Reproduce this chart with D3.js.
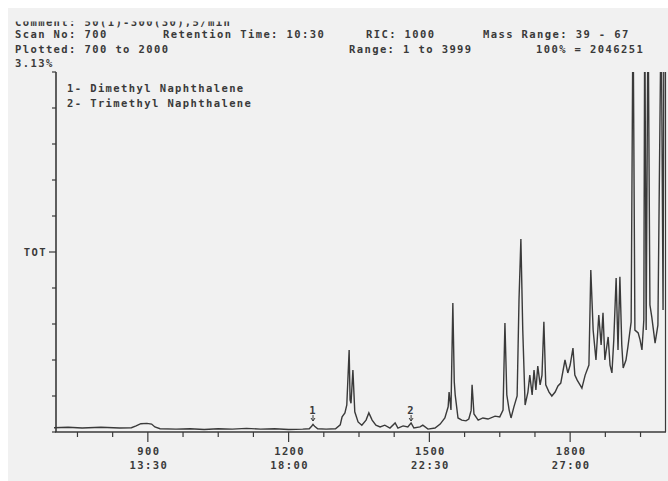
<!DOCTYPE html>
<html>
<head>
<meta charset="utf-8">
<script src="https://cdn.jsdelivr.net/npm/d3@7"></script>
<style>
  body { margin: 0; background: #fff; }
  text { font-family: "DejaVu Sans Mono", monospace; font-size: 10.5px; font-weight: bold; fill: #3a3a3a; letter-spacing: 1.4px; }
</style>
</head>
<body>
<svg id="chart" width="668" height="481"></svg>
<script>
// Header text of the printout
const headerComment = "Comment: 50(1)-300(30),5/min";
const headerRow1 = ["Scan No: 700", "Retention Time: 10:30", "RIC: 1000", "Mass Range: 39 - 67"];
const headerRow2 = ["Plotted: 700 to 2000", "Range: 1 to 3999", "100% = 2046251"];
const fullScaleLabel = "3.13%";
const legendLines = ["1- Dimethyl Naphthalene", "2- Trimethyl Naphthalene"];

// Scan axis
const scanRange = [700, 2000];
const majorTicks = [900, 1200, 1500, 1800];
const timeLabels = ["13:30", "18:00", "22:30", "27:00"];
const minorTicks = d3.range(750, 2000, 75).filter(t => !majorTicks.includes(t));

// Peak markers
const peakLabels = ["1", "2"];
const peakScans = [1252, 1461];

// Total ion current trace (% of 3.13% full scale), values above 100 run off the top
const scans = [700, 730, 760, 800, 840, 865, 875, 885, 898, 908, 915, 926, 960, 990, 1020, 1050, 1080, 1110, 1140, 1170,
  1200, 1230, 1244, 1249, 1252, 1256, 1262, 1280, 1300, 1310, 1314, 1320, 1324, 1329, 1331, 1333, 1337, 1341, 1348, 1356,
  1365, 1371, 1378, 1386, 1395, 1405, 1416, 1427, 1433, 1444, 1454, 1461, 1467, 1480, 1486, 1497, 1512, 1523, 1533, 1540,
  1542, 1546, 1550, 1553, 1555, 1561, 1569, 1578, 1584, 1589, 1591, 1595, 1604, 1614, 1625, 1640, 1650, 1657, 1661, 1665,
  1670, 1674, 1680, 1687, 1691, 1695, 1699, 1704, 1710, 1714, 1719, 1723, 1727, 1731, 1736, 1740, 1744, 1748, 1755, 1761,
  1768, 1774, 1780, 1789, 1795, 1800, 1806, 1810, 1815, 1821, 1825, 1832, 1840, 1844, 1849, 1855, 1861, 1866, 1870, 1874,
  1881, 1885, 1889, 1893, 1898, 1902, 1906, 1910, 1913, 1919, 1923, 1930, 1934, 1938, 1945, 1949, 1953, 1957, 1959, 1962,
  1966, 1970, 1974, 1981, 1987, 1994, 1998, 2000];
const intensity = [1.2, 1.3, 1.1, 1.3, 1.1, 1.2, 1.7, 2.3, 2.4, 2.2, 1.4, 0.9, 0.8, 0.9, 0.7, 0.9, 0.8, 1.0, 0.8, 0.9,
  0.7, 0.8, 0.9, 1.6, 2.1, 1.5, 0.9, 0.8, 0.9, 2.0, 4.2, 5.3, 7.5, 22.8, 8.9, 8.0, 17.2, 5.6, 2.8, 1.9,
  3.3, 5.3, 3.3, 1.9, 1.4, 1.9, 1.1, 2.5, 1.1, 1.7, 1.4, 2.5, 1.1, 1.4, 1.9, 0.8, 1.1, 2.2, 3.9, 7.0,
  11.1, 6.1, 35.8, 14.0, 10.3, 3.9, 3.3, 3.1, 3.6, 6.0, 13.1, 5.0, 3.3, 3.9, 3.6, 4.4, 4.2, 6.1, 30.3, 10.3,
  6.1, 3.9, 6.9, 10.0, 36.7, 53.6, 28.3, 7.5, 11.1, 15.8, 10.3, 17.2, 11.7, 18.3, 13.1, 15.8, 30.6, 13.1, 11.1, 10.0,
  11.1, 12.8, 13.6, 20.0, 16.4, 18.6, 23.3, 15.8, 14.4, 13.1, 12.2, 15.8, 18.6, 45.0, 28.3, 20.0, 32.5, 24.2, 33.1, 20.0,
  26.4, 18.6, 16.4, 25.6, 42.8, 22.8, 43.1, 24.2, 17.8, 20.0, 23.6, 30.6, 120, 28.3, 27.5, 25.6, 22.8, 31.1, 120, 28.3,
  120, 35.3, 31.9, 24.7, 29.7, 120, 33.9, 120];

const svg = d3.select("#chart");
const ink = "#3a3a3a";

// Scanned paper
svg.append("rect").attr("x", 8).attr("y", 8).attr("width", 660).attr("height", 473).attr("fill", "#f1f1f1");

const x = d3.scaleLinear().domain(scanRange).range([54, 664]);
const y = d3.scaleLinear().domain([0, 100]).range([432, 72]);

// Header block (first line is cut off at the top of the scan)
svg.append("clipPath").attr("id", "topcut")
  .append("rect").attr("x", 0).attr("y", 21.5).attr("width", 668).attr("height", 20);
svg.append("text").attr("x", 15).attr("y", 25.5).attr("clip-path", "url(#topcut)").text(headerComment);

const row1X = [15, 163, 366, 483];
headerRow1.forEach((t, i) => svg.append("text").attr("x", row1X[i]).attr("y", 38).text(t));
const row2X = [15, 349, 536];
headerRow2.forEach((t, i) => svg.append("text").attr("x", row2X[i]).attr("y", 52.5).text(t));
svg.append("text").attr("x", 15).attr("y", 67).text(fullScaleLabel);

// Legend
legendLines.forEach((t, i) => svg.append("text").attr("x", 67).attr("y", 92 + i * 14.5).text(t));

// Left axis with 10% ticks
svg.append("line").attr("x1", x(scanRange[0]) + 2).attr("x2", x(scanRange[0]) + 2)
  .attr("y1", y(100)).attr("y2", y(0)).attr("stroke", ink).attr("stroke-width", 1.6);
svg.selectAll(".ytick").data(d3.range(0, 101, 10)).enter().append("line")
  .attr("class", "ytick")
  .attr("x1", d => d === 50 ? 49 : 52).attr("x2", 56)
  .attr("y1", d => y(d)).attr("y2", d => y(d))
  .attr("stroke", ink).attr("stroke-width", 1.2);
svg.append("text").attr("x", 47).attr("y", y(50) + 4).attr("text-anchor", "end").text("TOT");

// Bottom axis
svg.append("line").attr("x1", 55).attr("x2", 666).attr("y1", y(0)).attr("y2", y(0))
  .attr("stroke", ink).attr("stroke-width", 1.6);
svg.selectAll(".xminor").data(minorTicks).enter().append("line")
  .attr("x1", d => x(d)).attr("x2", d => x(d))
  .attr("y1", y(0)).attr("y2", y(0) + 5)
  .attr("stroke", ink).attr("stroke-width", 1.2);
svg.selectAll(".xmajor").data(majorTicks).enter().append("line")
  .attr("x1", d => x(d)).attr("x2", d => x(d))
  .attr("y1", y(0)).attr("y2", y(0) + 10)
  .attr("stroke", ink).attr("stroke-width", 1.2);
majorTicks.forEach((t, i) => {
  svg.append("text").attr("x", x(t) + 1).attr("y", 455).attr("text-anchor", "middle").text(t);
  svg.append("text").attr("x", x(t) + 1).attr("y", 469).attr("text-anchor", "middle").text(timeLabels[i]);
});

// Right edge of the frame
svg.append("line").attr("x1", 665.5).attr("x2", 665.5).attr("y1", y(100)).attr("y2", y(0))
  .attr("stroke", ink).attr("stroke-width", 1.2);

// Trace, clipped at 100%
svg.append("clipPath").attr("id", "plot")
  .append("rect").attr("x", 54).attr("y", y(100)).attr("width", 614).attr("height", y(0) - y(100) + 2);

const trace = scans.map((s, i) => ({ scan: s, value: intensity[i] }));
const line = d3.line().x(d => x(d.scan)).y(d => y(d.value));
svg.append("path").datum(trace)
  .attr("d", line)
  .attr("clip-path", "url(#plot)")
  .attr("fill", "none")
  .attr("stroke", ink)
  .attr("stroke-width", 1.4)
  .attr("stroke-linejoin", "miter");

// Peak number markers with small arrows
peakLabels.forEach((lab, i) => {
  const px = x(peakScans[i]);
  svg.append("text").attr("x", px).attr("y", 414).attr("text-anchor", "middle").text(lab);
  svg.append("line").attr("x1", px).attr("x2", px).attr("y1", 415).attr("y2", 421)
    .attr("stroke", ink).attr("stroke-width", 1);
  svg.append("path").attr("d", `M${px - 2},418 L${px},421 L${px + 2},418`)
    .attr("fill", "none").attr("stroke", ink).attr("stroke-width", 1);
});
</script>
</body>
</html>
